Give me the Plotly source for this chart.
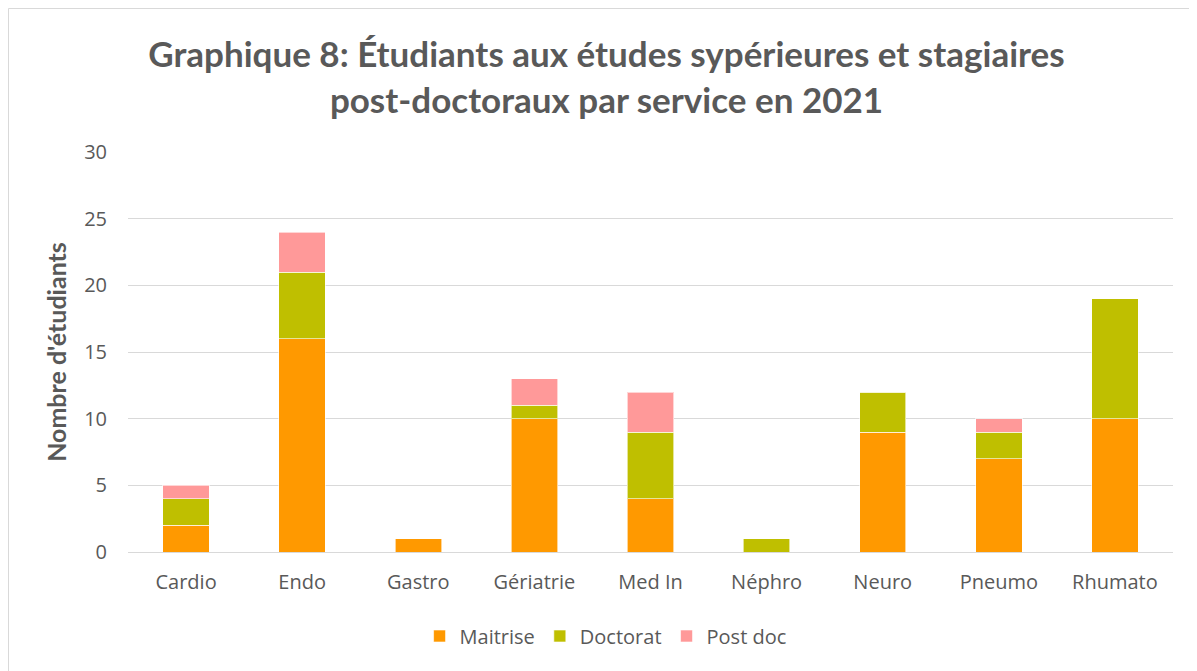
import plotly.graph_objects as go

categories = ["Cardio", "Endo", "Gastro", "Gériatrie", "Med In", "Néphro", "Neuro", "Pneumo", "Rhumato"]
maitrise = [2, 16, 1, 10, 4, 0, 9, 7, 10]
doctorat = [2, 5, 0, 1, 5, 1, 3, 2, 9]
postdoc = [1, 3, 0, 2, 3, 0, 0, 1, 0]
yticks = [0, 5, 10, 15, 20, 25, 30]

title_font = "Lato, Open Sans, sans-serif"
body_font = "Open Sans, sans-serif"
grey = "#595959"

W, H = 1197, 671
L, R, T, B = 120, 32, 144, 127
PW, PH = W - L - R, H - T - B

fig = go.Figure()
for name, vals, color in [("Maitrise", maitrise, "#FF9900"),
                          ("Doctorat", doctorat, "#BFBF00"),
                          ("Post doc", postdoc, "#FF9999")]:
    fig.add_trace(go.Bar(x=categories, y=vals, name=name,
                         marker=dict(color=color, line=dict(color="rgba(255,255,255,0.6)", width=1))))

fig.update_layout(
    barmode="stack",
    bargap=0.6,
    width=W, height=H,
    paper_bgcolor="white", plot_bgcolor="white",
    margin=dict(l=L, r=R, t=T, b=B),
    font=dict(family=body_font, color=grey, size=20),
    title=dict(text="<b>Graphique 8: Étudiants aux études sypérieures et stagiaires<br>post-doctoraux par service en 2021</b>",
               x=0.5, xanchor="center", y=1 - 59 / H, yanchor="top",
               font=dict(size=35, color=grey, family=title_font)),
    legend=dict(orientation="h", x=0.457, xanchor="center", y=-84 / PH, yanchor="middle",
                font=dict(size=20, color=grey, family=body_font), traceorder="normal"),
    yaxis=dict(range=[0, 30], tickvals=yticks, showgrid=True, gridcolor="#D9D9D9", gridwidth=1,
               zeroline=False, showline=False, ticks="", ticklabelstandoff=20,
               title=dict(text="<b>Nombre d'étudiants</b>",
                          font=dict(size=25, color=grey, family=title_font), standoff=10),
               tickfont=dict(size=20, color=grey)),
    xaxis=dict(showline=True, linecolor="#D9D9D9", ticks="", ticklabelstandoff=12,
               tickfont=dict(size=20, color=grey)),
    shapes=[dict(type="rect", xref="paper", yref="paper", x0=-(L - 0.5) / PW, x1=1 + (R - 0.5) / PW,
                 y0=-(B - 0.5) / PH, y1=1 + (T - 0.5) / PH, line=dict(color="#D9D9D9", width=1))],
)
fig.write_html("out.html")
